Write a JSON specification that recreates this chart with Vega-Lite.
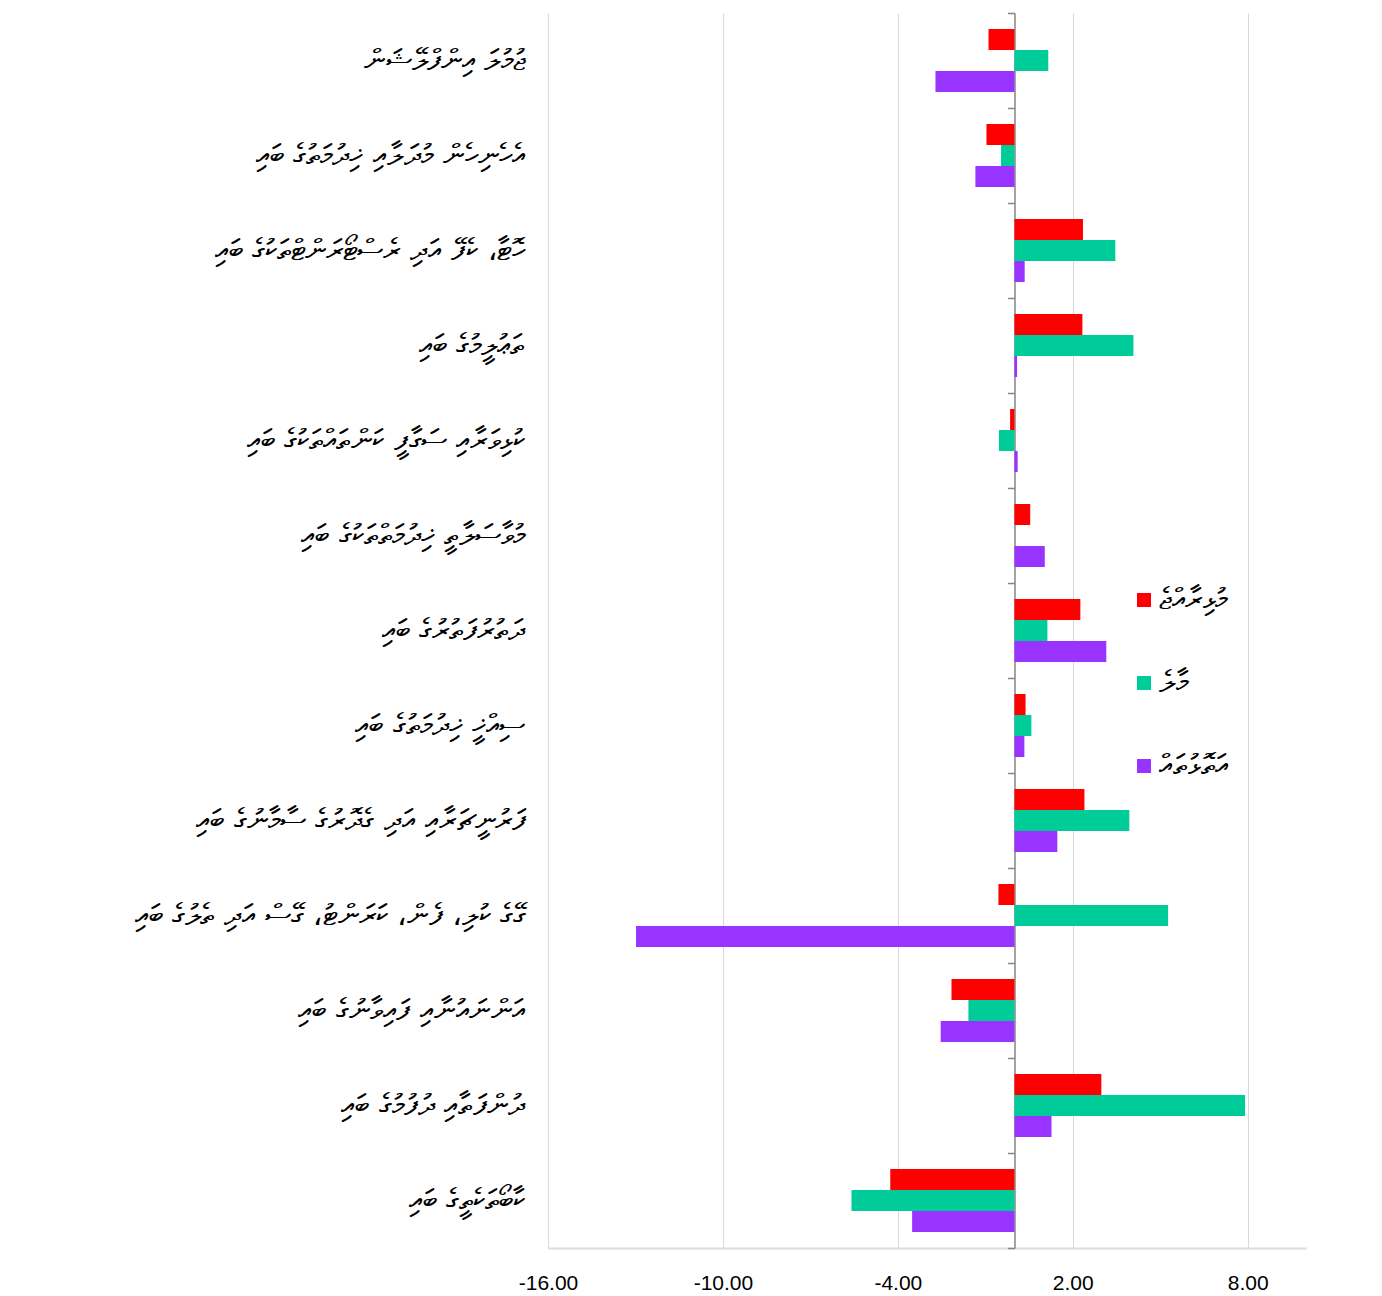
{
  "$schema": "https://vega.github.io/schema/vega-lite/v6.json",
  "autosize": "none",
  "width": 758,
  "height": 1235,
  "padding": {"left": 548, "top": 13, "right": 76, "bottom": 48},
  "background": "white",
  "data": {
    "values": [
      {"cat": "ޖުމުލަ އިންފްލޭޝަން", "series": "މުޅިރާއްޖެ", "value": -0.89},
      {"cat": "ޖުމުލަ އިންފްލޭޝަން", "series": "މާލެ", "value": 1.16},
      {"cat": "ޖުމުލަ އިންފްލޭޝަން", "series": "އަތޮޅުތައް", "value": -2.71},
      {"cat": "އެހެނިހެން މުދަލާއި ޚިދުމަތުގެ ބައި", "series": "މުޅިރާއްޖެ", "value": -0.96},
      {"cat": "އެހެނިހެން މުދަލާއި ޚިދުމަތުގެ ބައި", "series": "މާލެ", "value": -0.46},
      {"cat": "އެހެނިހެން މުދަލާއި ޚިދުމަތުގެ ބައި", "series": "އަތޮޅުތައް", "value": -1.34},
      {"cat": "ހޮޓާ، ކެފޭ އަދި ރެސްޓޯރަންޓްތަކުގެ ބައި", "series": "މުޅިރާއްޖެ", "value": 2.35},
      {"cat": "ހޮޓާ، ކެފޭ އަދި ރެސްޓޯރަންޓްތަކުގެ ބައި", "series": "މާލެ", "value": 3.46},
      {"cat": "ހޮޓާ، ކެފޭ އަދި ރެސްޓޯރަންޓްތަކުގެ ބައި", "series": "އަތޮޅުތައް", "value": 0.35},
      {"cat": "ތަޢުލީމުގެ ބައި", "series": "މުޅިރާއްޖެ", "value": 2.33},
      {"cat": "ތަޢުލީމުގެ ބައި", "series": "މާލެ", "value": 4.08},
      {"cat": "ތަޢުލީމުގެ ބައި", "series": "އަތޮޅުތައް", "value": 0.09},
      {"cat": "ކުޅިވަރާއި ސަގާފީ ކަންތައްތަކުގެ ބައި", "series": "މުޅިރާއްޖެ", "value": -0.15},
      {"cat": "ކުޅިވަރާއި ސަގާފީ ކަންތައްތަކުގެ ބައި", "series": "މާލެ", "value": -0.53},
      {"cat": "ކުޅިވަރާއި ސަގާފީ ކަންތައްތަކުގެ ބައި", "series": "އަތޮޅުތައް", "value": 0.11},
      {"cat": "މުވާސަލާތީ ޚިދުމަތްތަކުގެ ބައި", "series": "މުޅިރާއްޖެ", "value": 0.54},
      {"cat": "މުވާސަލާތީ ޚިދުމަތްތަކުގެ ބައި", "series": "މާލެ", "value": 0},
      {"cat": "މުވާސަލާތީ ޚިދުމަތްތަކުގެ ބައި", "series": "އަތޮޅުތައް", "value": 1.04},
      {"cat": "ދަތުރުފަތުރުގެ ބައި", "series": "މުޅިރާއްޖެ", "value": 2.26},
      {"cat": "ދަތުރުފަތުރުގެ ބައި", "series": "މާލެ", "value": 1.13},
      {"cat": "ދަތުރުފަތުރުގެ ބައި", "series": "އަތޮޅުތައް", "value": 3.15},
      {"cat": "ސިއްޚީ ޚިދުމަތުގެ ބައި", "series": "މުޅިރާއްޖެ", "value": 0.38},
      {"cat": "ސިއްޚީ ޚިދުމަތުގެ ބައި", "series": "މާލެ", "value": 0.58},
      {"cat": "ސިއްޚީ ޚިދުމަތުގެ ބައި", "series": "އަތޮޅުތައް", "value": 0.34},
      {"cat": "ފަރުނީޗަރާއި އަދި ގެދޮރުގެ ސާމާނުގެ ބައި", "series": "މުޅިރާއްޖެ", "value": 2.4},
      {"cat": "ފަރުނީޗަރާއި އަދި ގެދޮރުގެ ސާމާނުގެ ބައި", "series": "މާލެ", "value": 3.94},
      {"cat": "ފަރުނީޗަރާއި އަދި ގެދޮރުގެ ސާމާނުގެ ބައި", "series": "އަތޮޅުތައް", "value": 1.47},
      {"cat": "ގޭގެ ކުލި، ފެން، ކަރަންޓު، ގޭސް އަދި ތެލުގެ ބައި", "series": "މުޅިރާއްޖެ", "value": -0.55},
      {"cat": "ގޭގެ ކުލި، ފެން، ކަރަންޓު، ގޭސް އަދި ތެލުގެ ބައި", "series": "މާލެ", "value": 5.27},
      {"cat": "ގޭގެ ކުލި، ފެން، ކަރަންޓު، ގޭސް އަދި ތެލުގެ ބައި", "series": "އަތޮޅުތައް", "value": -12.98},
      {"cat": "އަންނައުނާއި ފައިވާނުގެ ބައި", "series": "މުޅިރާއްޖެ", "value": -2.16},
      {"cat": "އަންނައުނާއި ފައިވާނުގެ ބައި", "series": "މާލެ", "value": -1.58},
      {"cat": "އަންނައުނާއި ފައިވާނުގެ ބައި", "series": "އަތޮޅުތައް", "value": -2.53},
      {"cat": "ދުންފަތާއި ދުފުމުގެ ބައި", "series": "މުޅިރާއްޖެ", "value": 2.98},
      {"cat": "ދުންފަތާއި ދުފުމުގެ ބައި", "series": "މާލެ", "value": 7.91},
      {"cat": "ދުންފަތާއި ދުފުމުގެ ބައި", "series": "އަތޮޅުތައް", "value": 1.27},
      {"cat": "ކާބޯތަކެތީގެ ބައި", "series": "މުޅިރާއްޖެ", "value": -4.26},
      {"cat": "ކާބޯތަކެތީގެ ބައި", "series": "މާލެ", "value": -5.59},
      {"cat": "ކާބޯތަކެތީގެ ބައި", "series": "އަތޮޅުތައް", "value": -3.51}
    ]
  },
  "layer": [
    {
      "mark": {"type": "bar"},
      "encoding": {
        "y": {
          "field": "cat",
          "type": "nominal",
          "sort": null,
          "scale": {"paddingInner": 0, "paddingOuter": 0},
          "axis": {
            "title": null,
            "offset": -466.5,
            "tickBand": "extent",
            "tickSize": 7,
            "tickColor": "#868686",
            "tickWidth": 1.5,
            "domainColor": "#868686",
            "domainWidth": 1.5,
            "labelPadding": 482.5,
            "labelLimit": 0,
            "labelFontSize": 30,
            "labelColor": "#000000",
            "labelFont": "DejaVu Sans",
            "labelAlign": "right",
            "labelBaseline": "middle",
            "grid": false
          }
        },
        "yOffset": {
          "field": "series",
          "type": "nominal",
          "sort": ["މުޅިރާއްޖެ", "މާލެ", "އަތޮޅުތައް"],
          "scale": {"paddingInner": 0, "paddingOuter": 0.76}
        },
        "x": {
          "field": "value",
          "type": "quantitative",
          "scale": {"domain": [-16, 10], "nice": false, "zero": false},
          "axis": {
            "title": null,
            "values": [-16, -10, -4, 2, 8],
            "labelExpr": "replace(format(datum.value, '.2f'), '\u2212', '-')",
            "labelFlush": false,
            "ticks": false,
            "grid": true,
            "gridColor": "#d9d9d9",
            "gridWidth": 1,
            "domainColor": "#d6dce5",
            "domainWidth": 2,
            "labelPadding": 24,
            "labelFontSize": 21,
            "labelColor": "#000000",
            "labelFont": "Liberation Sans"
          }
        },
        "color": {
          "field": "series",
          "type": "nominal",
          "scale": {
            "domain": ["މުޅިރާއްޖެ", "މާލެ", "އަތޮޅުތައް"],
            "range": ["#ff0000", "#00cc99", "#9933ff"]
          },
          "legend": {
            "title": null,
            "orient": "none",
            "legendX": 581,
            "legendY": 572,
            "symbolType": "square",
            "symbolSize": 196,
            "symbolStrokeWidth": 0,
            "rowPadding": 53,
            "labelFontSize": 30,
            "labelFont": "DejaVu Sans",
            "labelColor": "#000000",
            "labelOffset": 0
          }
        }
      }
    }
  ],
  "config": {
    "view": {"stroke": null}
  }
}
